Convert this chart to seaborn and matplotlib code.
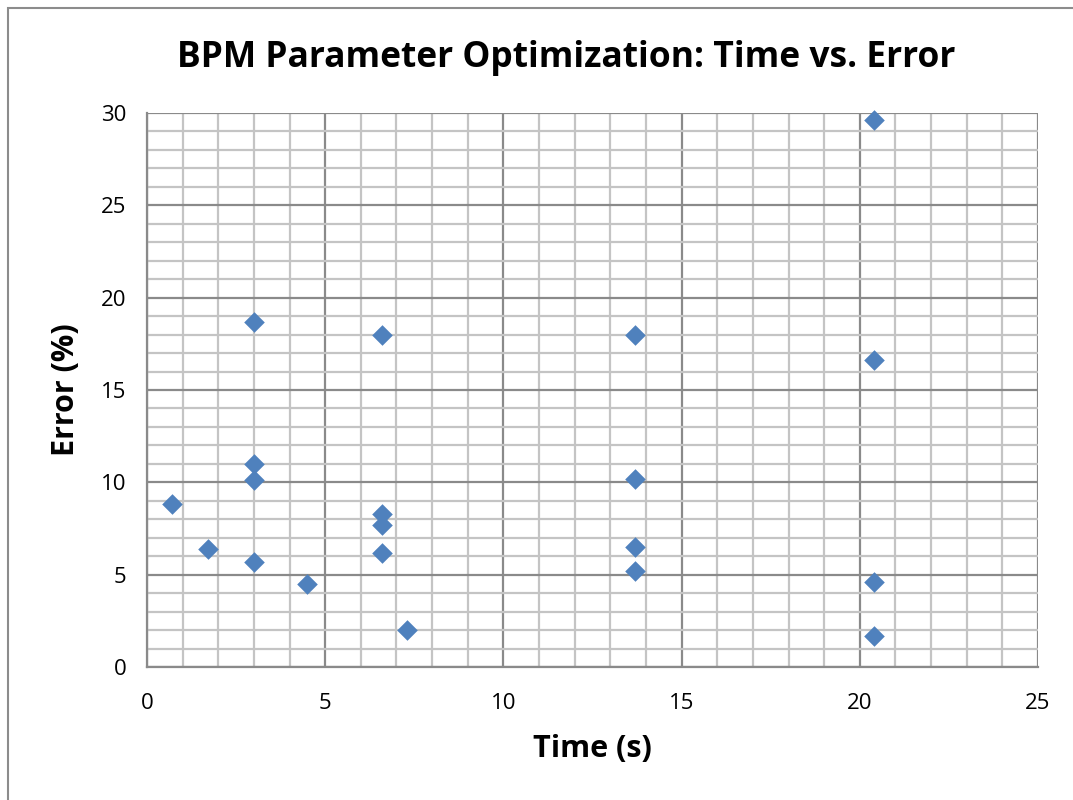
import matplotlib
matplotlib.use("Agg")
import matplotlib.pyplot as plt
import seaborn as sns
import pandas as pd
from matplotlib.ticker import MultipleLocator
from matplotlib.patches import Rectangle

time_s = [0.7, 1.7, 3.0, 3.0, 3.0, 3.0, 4.5, 6.6, 6.6, 6.6, 6.6, 7.3,
          13.7, 13.7, 13.7, 13.7, 20.4, 20.4, 20.4, 20.4]
error_pct = [8.8, 6.4, 18.7, 11.0, 10.1, 5.7, 4.5, 18.0, 8.3, 7.7, 6.2, 2.0,
             18.0, 10.2, 6.5, 5.2, 29.6, 16.6, 4.6, 1.7]

x_ticks = [0, 5, 10, 15, 20, 25]
y_ticks = [0, 5, 10, 15, 20, 25, 30]

df = pd.DataFrame({"Time (s)": time_s, "Error (%)": error_pct})

sns.set_theme(style="white")
plt.rcParams["font.family"] = ["Open Sans", "DejaVu Sans"]
plt.rcParams["text.color"] = "black"
plt.rcParams["axes.labelcolor"] = "black"

fig = plt.figure(figsize=(10.73, 8.0), dpi=100)
ax = fig.add_axes([147/1073, 1-667/800, (1038-147)/1073, (667-113)/800])

# chart border
fig.patches.append(Rectangle((8/1073, -0.1), 1.2, 1 - 8/800 + 0.1,
                             transform=fig.transFigure, fill=False,
                             edgecolor="#8c8c8c", linewidth=1.5, zorder=0))

ax.set_xlim(0, 25)
ax.set_ylim(0, 30)
ax.xaxis.set_major_locator(MultipleLocator(5))
ax.yaxis.set_major_locator(MultipleLocator(5))
ax.xaxis.set_minor_locator(MultipleLocator(1))
ax.yaxis.set_minor_locator(MultipleLocator(1))
ax.grid(which="minor", color="#c4c4c4", linewidth=1.6)
ax.grid(which="major", color="#8a8a8a", linewidth=1.6)
ax.set_axisbelow(True)

sns.scatterplot(data=df, x="Time (s)", y="Error (%)", ax=ax, marker="D",
                s=110, color="#4F81BD", linewidth=0, zorder=3, clip_on=False)

for side in ["top", "right"]:
    ax.spines[side].set_visible(False)
for side in ["left", "bottom"]:
    ax.spines[side].set_color("#8a8a8a")
    ax.spines[side].set_linewidth(1.6)

ax.set_xticks(x_ticks)
ax.set_yticks(y_ticks)
ax.set_xticklabels([str(v) for v in x_ticks])
ax.set_yticklabels([str(v) for v in y_ticks])
ax.tick_params(axis="both", which="major", direction="out", length=7,
               width=1.6, color="#8a8a8a", labelsize=16, labelcolor="black")
ax.tick_params(axis="x", which="major", pad=12)
ax.tick_params(axis="y", which="major", pad=8)
ax.tick_params(which="minor", length=0)

ax.set_xlabel("Time (s)", fontsize=22, fontweight="bold", labelpad=14,
              color="black")
ax.set_ylabel("Error (%)", fontsize=22, fontweight="bold", labelpad=14,
              color="black")
fig.text(566/1073, 1-58/800, "BPM Parameter Optimization: Time vs. Error",
         ha="center", va="center", fontsize=25.5, fontweight="bold",
         color="black")

fig.savefig("out.png", dpi=100, facecolor="white")
